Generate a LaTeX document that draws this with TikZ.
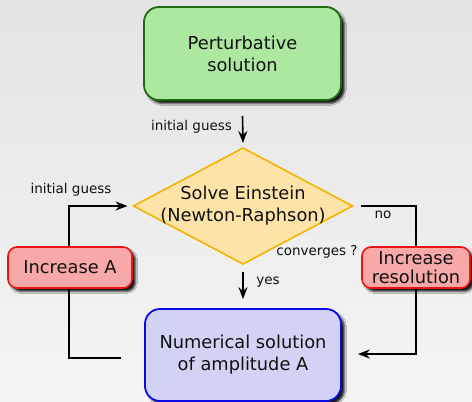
\documentclass[tikz,border=0pt]{standalone}
\usepackage{fontspec}
\setmainfont{DejaVu Sans}
\usetikzlibrary{shapes.geometric,shadows.blur,arrows.meta,calc}
\definecolor{txt}{HTML}{111111}
\definecolor{gfill}{HTML}{ACE8A0}
\definecolor{gline}{HTML}{1E6A10}
\definecolor{rfill}{HTML}{F7A8A8}
\definecolor{rline}{HTML}{E81515}
\definecolor{bfill}{HTML}{D2D2F4}
\definecolor{bline}{HTML}{0A0AE6}
\definecolor{dfill}{HTML}{FDE3A8}
\definecolor{dline}{HTML}{F2B400}
\definecolor{bgtop}{HTML}{E3E3E3}
\definecolor{bgbot}{HTML}{F5F5F5}
\tikzset{
  bigtext/.style={font=\fontsize{17.8}{22}\selectfont, text=txt, align=center},
  smalltext/.style={font=\fontsize{13.5}{16}\selectfont, text=txt, inner sep=0pt},
  shad/.style={blur shadow={shadow xshift=3.5pt, shadow yshift=-3.5pt, shadow blur radius=2pt, shadow opacity=90}},
  box/.style={bigtext, rectangle, rounded corners=15pt, line width=1.8pt, shad, inner sep=0pt},
  smallbox/.style={bigtext, rectangle, rounded corners=9pt, line width=1.6pt, shad, inner sep=0pt},
  conn/.style={line width=1.6pt, black},
  arr/.style={conn, -{Stealth[length=12pt, width=9pt, inset=4pt]}},
}
\begin{document}
\begin{tikzpicture}[x=1pt,y=-1pt]
\useasboundingbox (0,0) rectangle (472,402);
\shade[top color=bgtop, bottom color=bgbot] (0,0) rectangle (472,402);

\node[box, fill=gfill, draw=gline, minimum width=197pt, minimum height=93pt] (green) at (242.5,53.5) {Perturbative\\solution};
\node[bigtext, shape=diamond, shape aspect=1.89, inner sep=-4pt, outer sep=0pt, fill=dfill, draw=dline, line width=1.6pt, minimum width=219pt, minimum height=116pt] (dia) at (243,206) {Solve Einstein\\(Newton-Raphson)};
\node[smallbox, fill=rfill, draw=rline, minimum width=124pt, minimum height=41pt] (incA) at (70,267.5) {Increase A};
\node[smallbox, fill=rfill, draw=rline, minimum width=108pt, minimum height=41pt, font=\fontsize{17.8}{19}\selectfont] (incR) at (416,267.5) {Increase\\resolution};
\node[box, fill=bfill, draw=bline, minimum width=196pt, minimum height=92pt] (blue) at (243,355) {Numerical solution\\of amplitude A};

\node[smalltext] (lbl1) at (191.5,127) {initial guess};
\node[smalltext] (lbl2) at (71,190) {initial guess};
\node[smalltext] (lblno) at (383,215) {no};
\node[smalltext] (lblconv) at (317,252) {converges ?};
\node[smalltext] (lblyes) at (268,282) {yes};

\draw[arr] ($(green.south)+(0,15)$) -- ($(dia.north)+(0,-5)$);
\draw[arr] ($(dia.south)+(0,8)$) -- ($(blue.north)+(0,-9)$);
\draw[arr] ($(incA.north)+(-1,0)$) |- ($(dia.west)+(-6,0)$);
\draw[conn] ($(dia.east)+(8,0)$) -| (incR.north);
\coordinate (leftend) at ($(blue.west)+(-23,3)$);
\draw[conn] ($(incA.south)+(-1,0)$) |- (leftend);
\draw[arr] (incR.south) |- ($(blue.east)+(16,-1)$);
\end{tikzpicture}
\end{document}
